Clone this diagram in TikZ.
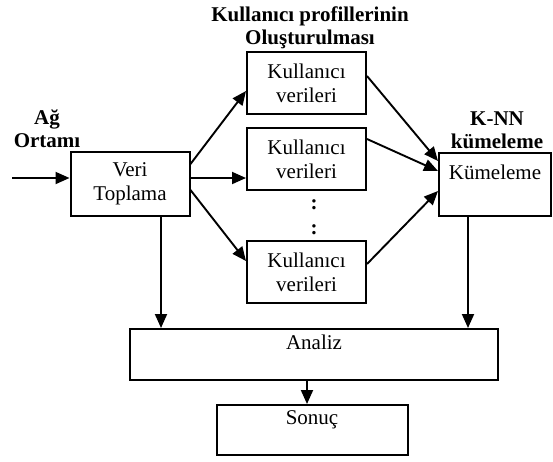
\documentclass[tikz,border=0pt]{standalone}
\usepackage{fontspec}
\setmainfont{Liberation Serif}
\usetikzlibrary{arrows.meta,calc}
\tikzset{
  box/.style={draw, line width=2pt, inner sep=0pt, align=center, font=\fontsize{21}{24}\selectfont},
  lbl/.style={inner sep=0pt, align=center, font=\fontsize{21}{23}\selectfont\bfseries},
  arr/.style={line width=1.9pt, -{Triangle[length=14pt,width=12pt]}}
}
\begin{document}
\begin{tikzpicture}[x=1pt,y=-1pt]
\useasboundingbox[fill=white] (0,0) rectangle (553,461);
% boxes
\node[box, minimum width=119pt, minimum height=64pt] (veri) at (130,184) {Veri\\Toplama};
\node[box, minimum width=119pt, minimum height=62pt] (u1) at (306.5,83) {Kullanıcı\\verileri};
\node[box, minimum width=119pt, minimum height=62pt] (u2) at (306.5,159) {Kullanıcı\\verileri};
\node[box, minimum width=119pt, minimum height=62pt] (u3) at (306.5,272) {Kullanıcı\\verileri};
\node[box, minimum width=112pt, minimum height=63pt] (kum) at (495,184.5) {Kümeleme\\\mbox{}};
\node[box, minimum width=368pt, minimum height=51pt] (analiz) at (314,354.5) {Analiz\\\mbox{}};
\node[box, minimum width=191pt, minimum height=50pt] (sonuc) at (312,430) {Sonuç\\\mbox{}};
% labels
\node[lbl] (ag) at (47,129) {Ağ\\Ortamı};
\node[lbl] (title) at (310,28) {Kullanıcı profillerinin\\Oluşturulması};
\node[lbl] (knn) at (497,130) {K-NN\\kümeleme};
\node[lbl] (d1) at (314,205) {:};
\node[lbl] (d2) at (314,230) {:};
% connectors
\coordinate (in) at (12,178);
\draw[arr] (in) -- (in -| veri.west);
\draw[arr] ($(veri.north east)+(0,13)$) -- ($(u1.south west)+(0,-24)$);
\draw[arr] ($(veri.east)+(0,-6)$) coordinate (m) -- (m -| u2.west);
\draw[arr] ($(veri.east)+(0,6)$) -- ($(u3.north west)+(0,21)$);
\draw[arr] ($(u1.north east)+(0,25)$) -- ($(kum.north west)+(0,9)$);
\draw[arr] ($(u2.north east)+(0,12)$) -- ($(kum.north west)+(0,19)$);
\draw[arr] ($(u3.north east)+(0,24)$) -- ($(kum.north west)+(0,39)$);
\draw[arr] ($(veri.south)+(31,0)$) coordinate (a1) -- (a1 |- analiz.north);
\draw[arr] ($(kum.south)+(-27,0)$) coordinate (a2) -- (a2 |- analiz.north);
\draw[arr] ($(analiz.south)+(-7,0)$) coordinate (a3) -- (a3 |- sonuc.north);
\end{tikzpicture}
\end{document}
